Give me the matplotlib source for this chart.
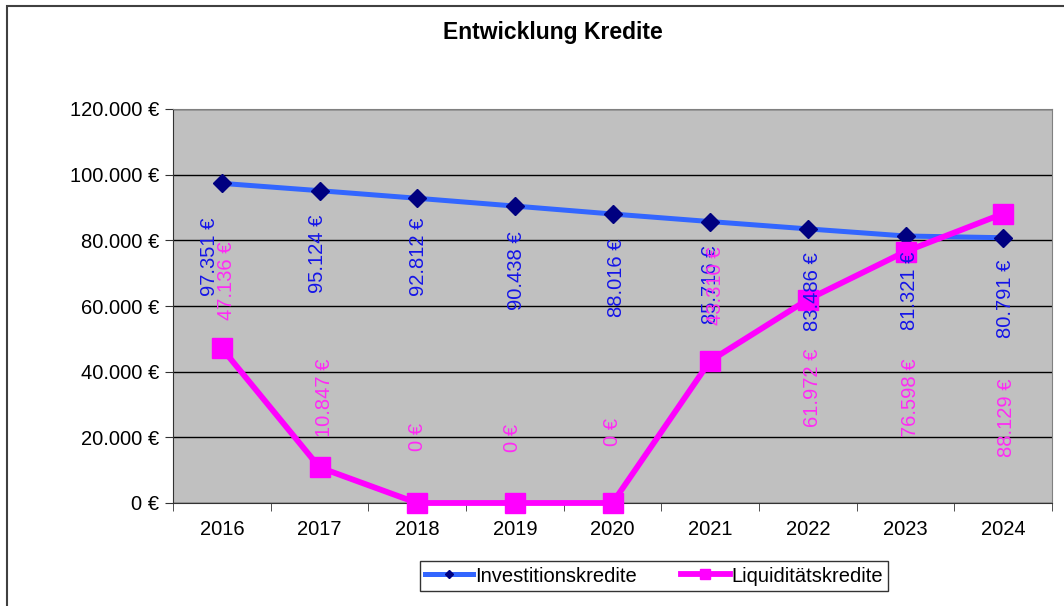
import matplotlib.pyplot as plt
from matplotlib.patches import Rectangle

plt.rcParams['font.family'] = ['Liberation Sans', 'DejaVu Sans']

years = ["2016", "2017", "2018", "2019", "2020", "2021", "2022", "2023", "2024"]
investition = [97351, 95124, 92812, 90438, 88016, 85716, 83486, 81321, 80791]
liquiditaet = [47136, 10847, 0, 0, 0, 43310, 61972, 76598, 88129]
y_ticks = [0, 20000, 40000, 60000, 80000, 100000, 120000]

# label offsets in pixels (dx, dy)
blue_offsets = [(-12, -73), (-2, -63), (1, -59), (2, -65), (4, -64),
                (0, -63), (5, -63), (4, -55), (2, -61)]
pink_offsets = [(5, 67), (5, 70), (0, 66), (-2, 65), (0, 71),
                (5, 75), (5, -88), (5, -146), (3, -204)]

FS = 14.5


def euro(v):
    return f"{v:,.0f} €".replace(",", ".")


fig = plt.figure(figsize=(10.64, 6.06), dpi=100)
ax = fig.add_axes([173 / 1064, 103 / 606, 879 / 1064, 394 / 606])
ax.set_facecolor("#c0c0c0")

x = list(range(len(years)))
ax.plot(x, investition, color="#3366ff", lw=3.6, marker="D", ms=9,
        mfc="#000080", mec="#000080", label="Investitionskredite",
        zorder=3, clip_on=False)
ax.plot(x, liquiditaet, color="#ff00ff", lw=4.2, marker="s", ms=14,
        mfc="#ff00ff", mec="#ff00ff", label="Liquiditätskredite",
        zorder=4, clip_on=False)

for xi, v, (dx, dy) in zip(x, investition, blue_offsets):
    ax.annotate(euro(v), (xi, v), xytext=(dx, dy), textcoords="offset pixels",
                rotation=90, ha="center", va="center", fontsize=FS,
                color="#1515e8", zorder=5)
for xi, v, (dx, dy) in zip(x, liquiditaet, pink_offsets):
    ax.annotate(euro(v), (xi, v), xytext=(dx, dy), textcoords="offset pixels",
                rotation=90, ha="center", va="center", fontsize=FS,
                color="#ff2af5", zorder=5)

ax.set_xlim(-0.5, len(years) - 0.5)
ax.set_ylim(0, 120000)
ax.set_yticks(y_ticks)
ax.set_yticklabels([euro(t) for t in y_ticks], fontsize=FS)
ax.set_xticks(x)
ax.set_xticklabels(years, fontsize=FS)
ax.tick_params(axis="x", length=0, pad=12)
ax.set_xticks([i - 0.5 for i in range(len(years) + 1)], minor=True)
ax.tick_params(axis="x", which="minor", length=6, color="#333333")
ax.tick_params(axis="y", length=6, color="#333333", pad=4)
ax.yaxis.grid(True, color="black", lw=1)
ax.set_axisbelow(True)
for side in ["top", "right"]:
    ax.spines[side].set_color("#808080")
for side in ["left", "bottom"]:
    ax.spines[side].set_color("#333333")

fig.text(553 / 1064, 1 - 32 / 606, "Entwicklung Kredite", ha="center",
         va="center", fontsize=16.5, fontweight="bold")

leg = fig.legend(loc="center", bbox_to_anchor=(654 / 1064, 1 - 576 / 606),
                 ncol=2, fontsize=FS, frameon=True, fancybox=False,
                 edgecolor="black", handlelength=2.4, handletextpad=0.1,
                 columnspacing=2.2, borderpad=0.25, markerscale=0.5)
leg.get_frame().set_linewidth(1)

fig.patches.append(Rectangle((7 / 1064, -0.1), 1.2, 1 - 6 / 606 + 0.1,
                             transform=fig.transFigure, fill=False,
                             edgecolor="#404040", lw=1.5))

fig.savefig("out.png", dpi=100)
